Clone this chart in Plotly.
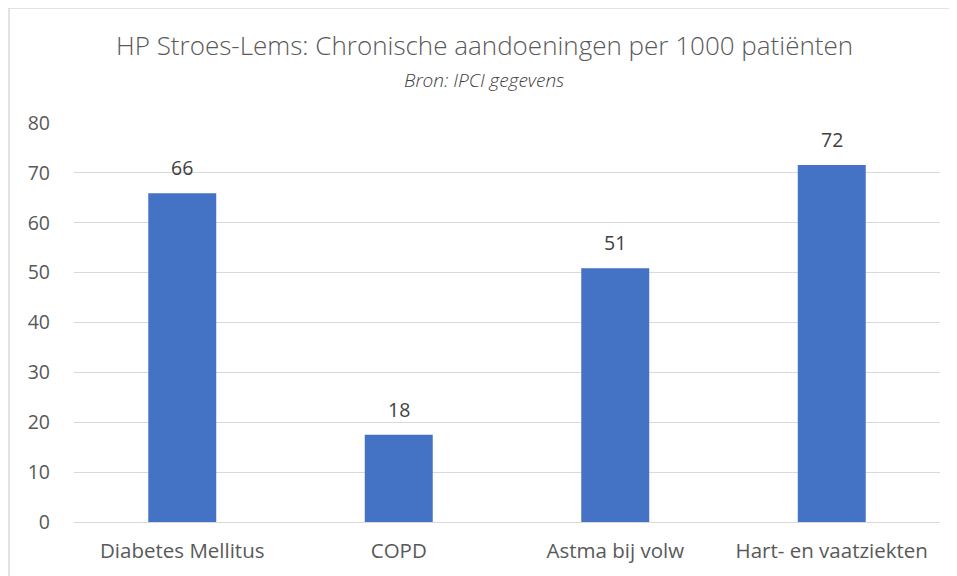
import plotly.graph_objects as go

categories = ["Diabetes Mellitus", "COPD", "Astma bij volw", "Hart- en vaatziekten"]
values = [65.9, 17.5, 50.9, 71.6]
labels = ["66", "18", "51", "72"]

FONT = "Open Sans"
GREY = "#595959"

fig = go.Figure()
fig.add_trace(go.Bar(
    x=categories, y=values,
    marker=dict(color="#4472C4", line=dict(width=0)),
    hoverinfo="x+y",
))

fig.update_layout(
    width=957, height=576,
    margin=dict(l=66, r=25, t=115, b=62),
    plot_bgcolor="white", paper_bgcolor="white",
    bargap=0.686,
    showlegend=False,
    font=dict(family=FONT, color=GREY),
    xaxis=dict(showgrid=False, showline=False, ticks="", tickfont=dict(size=20.5, color=GREY),
               ticklabelstandoff=14),
    yaxis=dict(range=[0, 80], dtick=10, showgrid=True, gridcolor="#D9D9D9", gridwidth=1,
               zeroline=True, zerolinecolor="#D9D9D9", zerolinewidth=1,
               ticks="", tickfont=dict(size=19.5, color=GREY), ticklabelstandoff=23),
)

# value labels above the bars
for c, v, t in zip(categories, values, labels):
    fig.add_annotation(x=c, y=v, text=t, showarrow=False, yanchor="bottom", yshift=10,
                       font=dict(family=FONT, size=19.5, color="#404040"))

# chart title + source line
fig.add_annotation(text="HP Stroes-Lems: Chronische aandoeningen per 1000 patiënten",
                   xref="paper", yref="paper", x=0.474, y=1.195, showarrow=False,
                   xanchor="center", yanchor="middle",
                   font=dict(family=FONT, size=26, color=GREY, weight=300))
fig.add_annotation(text="<i>Bron: IPCI gegevens</i>",
                   xref="paper", yref="paper", x=0.474, y=1.107, showarrow=False,
                   xanchor="center", yanchor="middle",
                   font=dict(family=FONT, size=19, color="#404040", weight=300))

# light border around the chart area
fig.add_shape(type="rect", xref="paper", yref="paper", x0=-0.075, x1=1.0139, y0=-0.2, y1=1.288,
              line=dict(color="#D9D9D9", width=1.5), fillcolor="rgba(0,0,0,0)", layer="below")

fig.write_html("out.html")
